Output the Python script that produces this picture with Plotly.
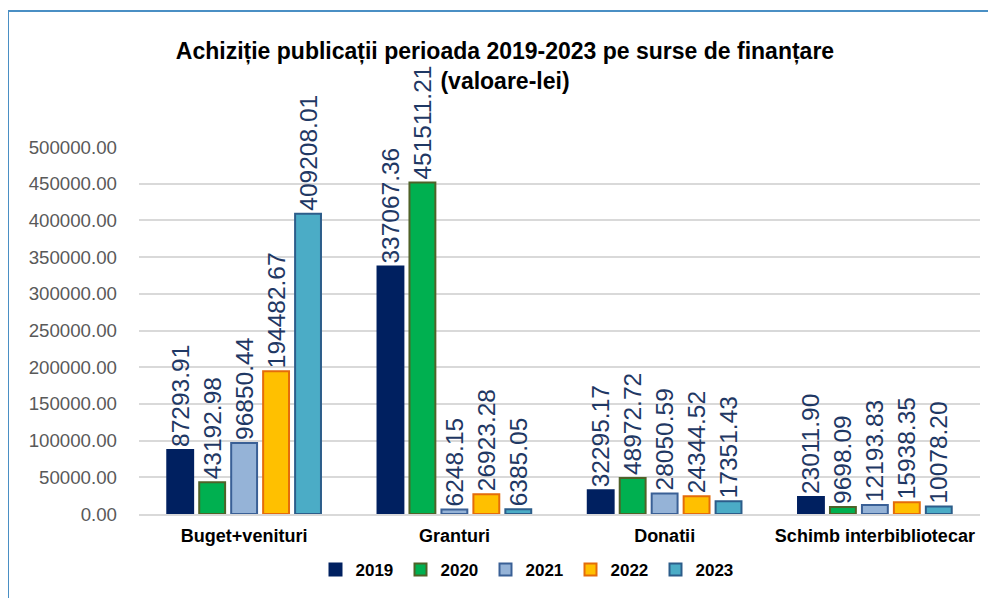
import plotly.graph_objects as go

categories = ["Buget+venituri", "Granturi", "Donatii", "Schimb interbibliotecar"]
years = ["2019", "2020", "2021", "2022", "2023"]
values_2019 = [87293.91, 337067.36, 32295.17, 23011.90]
values_2020 = [43192.98, 451511.21, 48972.72, 9698.09]
values_2021 = [96850.44, 6248.15, 28050.59, 12193.83]
values_2022 = [194482.67, 26923.28, 24344.52, 15938.35]
values_2023 = [409208.01, 6385.05, 17351.43, 10078.20]
series = [values_2019, values_2020, values_2021, values_2022, values_2023]
y_ticks = [0, 50000, 100000, 150000, 200000, 250000, 300000, 350000, 400000, 450000, 500000]

fills = ["#002060", "#00b050", "#95b3d7", "#ffc000", "#4bacc6"]
borders = ["#002060", "#4f6228", "#3a6096", "#e46c0a", "#2c5d8a"]

fig = go.Figure()
for name, vals, fc, bc in zip(years, series, fills, borders):
    fig.add_trace(go.Bar(
        name=name, x=categories, y=vals,
        marker=dict(color=fc, line=dict(color=bc, width=2)),
        texttemplate="%{y:.2f}", textposition="outside", textangle=-90,
        textfont=dict(family="Liberation Sans, Arial", size=24.5, color="#1f3864"),
        cliponaxis=False, constraintext="none",
    ))

# page body has an 8px margin, so figure coords = screen coords - 8
OFF = 8
W, H = 996 - OFF, 598 - OFF
ml, mr, mt, mb = 139 - OFF, 996 - 980, 147 - OFF, 598 - 514
pw = W - ml - mr
ph = H - mt - mb
plot_bottom = H - mb

bx0 = (8 - 139) / pw
bx1 = (1030 - 139) / pw
by0 = -(640 - 514) / ph
by1 = (514 - 11) / ph

fig.update_layout(
    width=W, height=H,
    margin=dict(l=ml, r=mr, t=mt, b=mb, autoexpand=False),
    paper_bgcolor="white", plot_bgcolor="white",
    barmode="group", bargap=0.24, bargroupgap=0.19,
    font=dict(family="Liberation Sans, Arial", color="#000000"),
    title=dict(
        text="Achiziție publicații perioada 2019-2023 pe surse de finanțare<br>(valoare-lei)",
        font=dict(family="Liberation Sans, Arial", size=23, color="#000000", weight="bold"),
        x=(505 - OFF) / W, xanchor="center", xref="container",
        y=1 - 51 / H, yanchor="top", yref="container",
    ),
    showlegend=True,
    legend=dict(
        orientation="h", x=(528 - OFF - ml) / pw, xanchor="center",
        y=-(570 - OFF - plot_bottom) / ph, yanchor="middle",
        font=dict(family="Liberation Sans, Arial", size=17, color="#000000", weight="bold"),
        entrywidth=40, entrywidthmode="pixels", itemwidth=30, traceorder="normal",
        bgcolor="rgba(0,0,0,0)",
    ),
    xaxis=dict(
        type="category", showgrid=False, showline=True, linecolor="#d9d9d9", linewidth=2,
        ticks="", tickfont=dict(family="Liberation Sans, Arial", size=18, color="#000000", weight="bold"),
        ticklabelstandoff=4, automargin=False,
    ),
    yaxis=dict(
        range=[0, 500000], tickvals=y_ticks, tickformat=".2f",
        showgrid=True, gridcolor="#d9d9d9", gridwidth=2, zeroline=False,
        showline=False, ticks="", automargin=False,
        tickfont=dict(family="Liberation Sans, Arial", size=18.7, color="#595959"),
        ticklabelstandoff=21,
    ),
    shapes=[
        dict(type="line", xref="paper", yref="paper", x0=bx0, x1=bx0, y0=by0, y1=by1,
             line=dict(color="#4a8fc4", width=2), layer="below"),
        dict(type="line", xref="paper", yref="paper", x0=bx0, x1=bx1, y0=by1, y1=by1,
             line=dict(color="#4a8fc4", width=2), layer="below"),
    ],
)

fig.write_html("out.html")
